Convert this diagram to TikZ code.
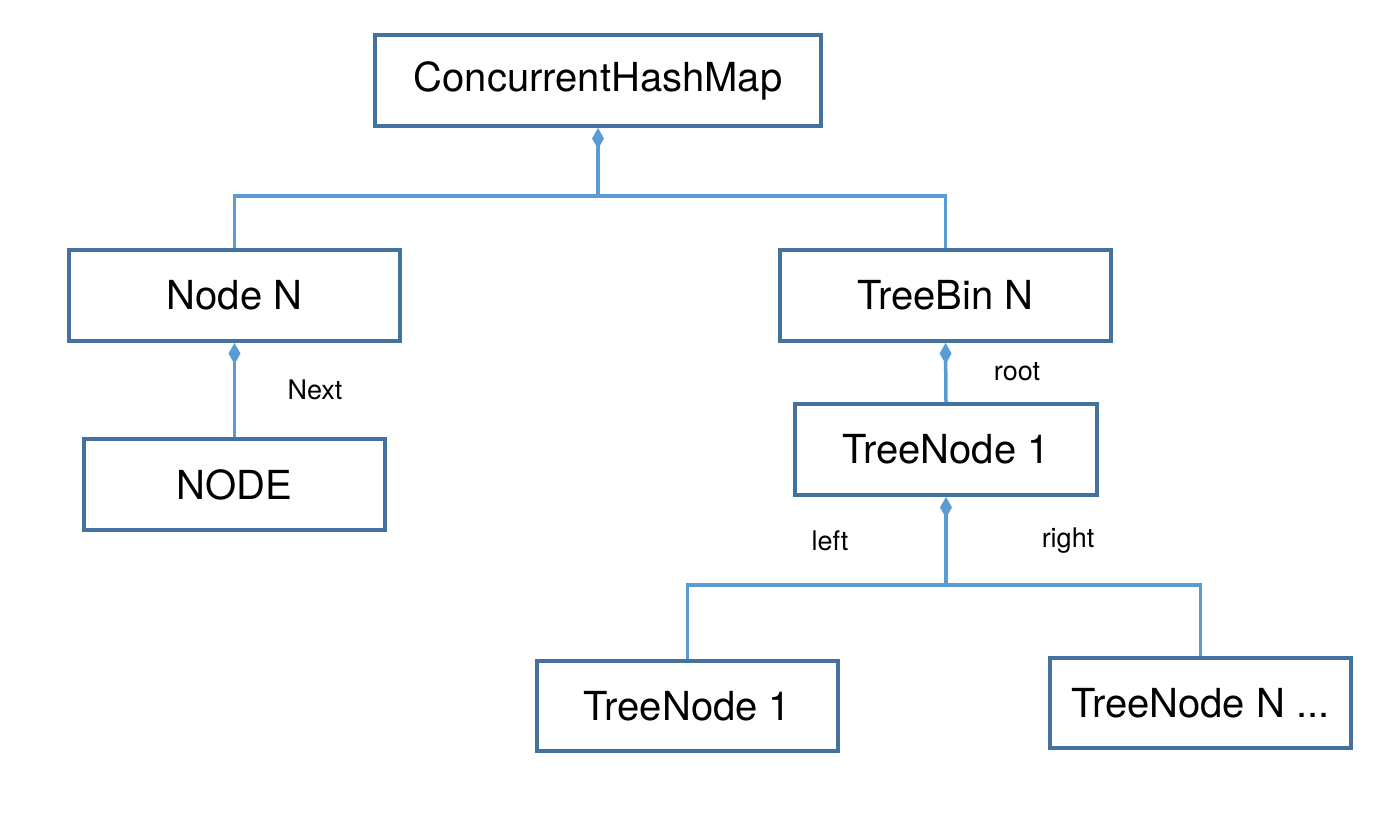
\documentclass[tikz,border=0pt]{standalone}
\usepackage{fontspec}
\setmainfont{TeX Gyre Heros}
\usetikzlibrary{arrows.meta}
\definecolor{boxblue}{HTML}{44729E}
\definecolor{linkblue}{HTML}{5B9BD5}
\begin{document}
\begin{tikzpicture}[x=1pt,y=-1pt,
  box/.style={draw=boxblue,line width=4pt,fill=white,inner sep=0pt,
    font=\fontsize{40}{46}\selectfont},
  conn/.style={draw=linkblue,line width=3.5pt},
  owns/.style={conn,-{Diamond[length=21pt,width=12pt,fill=linkblue]}},
  lbl/.style={font=\fontsize{27}{31}\selectfont,inner sep=0pt}]
\useasboundingbox (0,0) rectangle (1384,822);
\node[box,minimum width=446pt,minimum height=91pt] (chm) at (598,80.5) {ConcurrentHashMap};
\node[box,minimum width=331pt,minimum height=91pt] (nn) at (234.5,295.5) {Node N};
\node[box,minimum width=331pt,minimum height=91pt] (tb) at (945.5,295.5) {TreeBin N};
\node[box,minimum width=301pt,minimum height=91pt] (nd) at (234.5,484.5) {NODE};
\node[box,minimum width=302pt,minimum height=91pt] (tn) at (946,449.5) {TreeNode 1};
\node[box,minimum width=301pt,minimum height=90pt] (tl) at (687.5,706) {TreeNode 1};
\node[box,minimum width=301pt,minimum height=90pt] (tr) at (1200.5,703) {TreeNode N ...};
\coordinate (bus1) at (598,196);
\coordinate (bus2) at (946,585);
\draw[conn] (nn.north) |- (bus1);
\draw[conn] (tb.north) |- (bus1);
\draw[owns] (bus1) -- (chm.south);
\draw[owns] (nd.north) -- (nn.south);
\draw[owns] (tn.north) -- (tb.south);
\draw[conn] (tl.north) |- (bus2);
\draw[conn] (tr.north) |- (bus2);
\draw[owns] (bus2) -- (tn.south);
\node[lbl] (lnext) at (315,390) {Next};
\node[lbl] (lroot) at (1017,372) {root};
\node[lbl] (lleft) at (830,541) {left};
\node[lbl] (lright) at (1068,541) {right};
\end{tikzpicture}
\end{document}
